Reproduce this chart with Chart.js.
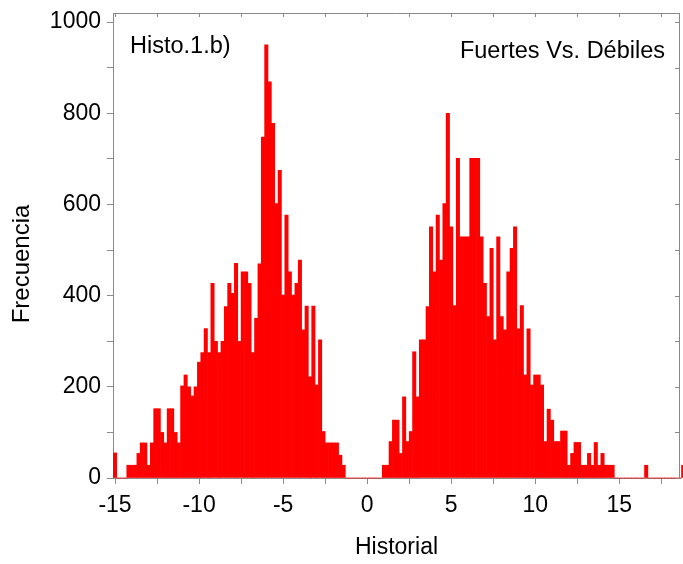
<!DOCTYPE html>
<html>
<head>
<meta charset="utf-8">
<title>Histo.1.b)</title>
<script src="https://cdn.jsdelivr.net/npm/chart.js@4.4.1/dist/chart.umd.min.js"></script>
<style>
  html, body { margin: 0; padding: 0; background: #fff; }
  canvas { display: block; }
</style>
</head>
<body>
<canvas id="histo" width="683" height="564"></canvas>
<script>
// histogram bins: centre of the first bin and bin width
const firstBin = -15.0;
const binWidth = 0.2;

// counts per bin, left to right
const frequencies = [
  55, 0, 0, 0, 28, 28, 28, 54, 77, 77,
  28, 77, 152, 152, 100, 77, 152, 152, 100, 77,
  202, 226, 200, 180, 200, 254, 275, 328, 275, 427,
  300, 275, 300, 376, 427, 405, 471, 300, 452, 452,
  427, 275, 350, 470, 748, 950, 869, 778, 602, 675,
  401, 577, 452, 401, 427, 478, 325, 377, 222, 377,
  204, 303, 102, 77, 77, 77, 77, 50, 28, 0,
  0, 0, 0, 0, 0, 0, 0, 0, 0, 0,
  28, 28, 80, 127, 127, 54, 178, 80, 102, 277,
  178, 303, 303, 376, 551, 452, 577, 478, 602, 800,
  551, 378, 701, 529, 529, 529, 701, 701, 701, 529,
  427, 354, 504, 303, 529, 354, 325, 452, 504, 551,
  327, 378, 226, 327, 204, 226, 226, 204, 80, 151,
  127, 80, 80, 103, 103, 28, 54, 78, 78, 28,
  28, 54, 28, 78, 28, 54, 28, 28, 28, 0,
  0, 0, 0, 0, 0, 0, 0, 0, 28, 0,
  0, 0, 0, 0, 0, 0, 0, 0, 0, 28
];

const xTicks = [-15, -12.5, -10, -7.5, -5, -2.5, 0, 2.5, 5, 7.5, 10, 12.5, 15, 17.5];
const yTicks = [0, 100, 200, 300, 400, 500, 600, 700, 800, 900, 1000];

const axisColor = "#8a8a8a";
const fontFamily = "'Liberation Sans', Arial, sans-serif";

const points = frequencies.map((f, i) => ({ x: firstBin + i * binWidth, y: f }));

// top/right frame with inward ticks, plus the free text labels
const frameAndText = {
  id: "frameAndText",
  afterDraw(chart) {
    const { ctx, chartArea: a, scales } = chart;
    const x = scales.x;
    const y = scales.y;
    ctx.save();
    ctx.strokeStyle = axisColor;
    ctx.lineWidth = 1;
    ctx.beginPath();
    ctx.moveTo(a.left, a.top + 0.5);
    ctx.lineTo(a.right, a.top + 0.5);
    ctx.moveTo(a.right - 0.5, a.top);
    ctx.lineTo(a.right - 0.5, a.bottom);
    xTicks.forEach((v) => {
      const px = Math.round(x.getPixelForValue(v)) + 0.5;
      ctx.moveTo(px, a.top);
      ctx.lineTo(px, a.top + 4);
    });
    yTicks.forEach((v) => {
      const py = Math.round(y.getPixelForValue(v)) + 0.5;
      ctx.moveTo(a.right, py);
      ctx.lineTo(a.right - 5, py);
    });
    ctx.stroke();

    ctx.fillStyle = "#000";
    ctx.font = "23.5px " + fontFamily;
    ctx.textBaseline = "alphabetic";
    ctx.textAlign = "left";
    ctx.fillText("Histo.1.b)", 130, 53);
    ctx.textAlign = "right";
    ctx.fillText("Fuertes Vs. Débiles", 665, 58);

    // y axis title
    ctx.font = "24px " + fontFamily;
    ctx.translate(22, 264);
    ctx.rotate(-Math.PI / 2);
    ctx.textAlign = "center";
    ctx.textBaseline = "middle";
    ctx.fillText("Frecuencia", 0, 0);
    ctx.restore();
  }
};

new Chart(document.getElementById("histo"), {
  type: "bar",
  data: {
    datasets: [
      {
        data: points,
        backgroundColor: "#ff0000",
        borderWidth: 0,
        barPercentage: 1,
        categoryPercentage: 1,
        clip: false
      }
    ]
  },
  options: {
    responsive: false,
    animation: false,
    layout: { padding: { top: 13, right: 3, bottom: 0, left: 0 } },
    plugins: {
      legend: { display: false },
      tooltip: { enabled: false }
    },
    scales: {
      x: {
        type: "linear",
        offset: false,
        min: -15.12,
        max: 18.61,
        afterBuildTicks: (s) => {
          s.ticks = xTicks.map((v) => ({ value: v }));
        },
        afterFit: (s) => {
          s.height = 86;
          s.paddingLeft = 0;
          s.paddingRight = 0;
        },
        ticks: {
          autoSkip: false,
          maxRotation: 0,
          padding: 8,
          color: "#000",
          font: { family: fontFamily, size: 23 },
          callback: (v) => (v % 5 === 0 ? v : "")
        },
        grid: { drawOnChartArea: false, offset: false, tickLength: 6, color: axisColor },
        border: { color: axisColor },
        title: {
          display: true,
          text: "Historial",
          color: "#000",
          font: { family: fontFamily, size: 23 },
          padding: { top: 0, bottom: 3 }
        }
      },
      y: {
        min: 0,
        max: 1020,
        afterBuildTicks: (s) => {
          s.ticks = yTicks.map((v) => ({ value: v }));
        },
        afterFit: (s) => {
          s.width = 113;
          s.paddingTop = 0;
          s.paddingBottom = 0;
        },
        ticks: {
          autoSkip: false,
          padding: 6,
          color: "#000",
          font: { family: fontFamily, size: 23 },
          callback: (v) => (v % 200 === 0 ? v : "")
        },
        grid: { drawOnChartArea: false, tickLength: 6, color: axisColor },
        border: { color: axisColor }
      }
    }
  },
  plugins: [frameAndText]
});
</script>
</body>
</html>
